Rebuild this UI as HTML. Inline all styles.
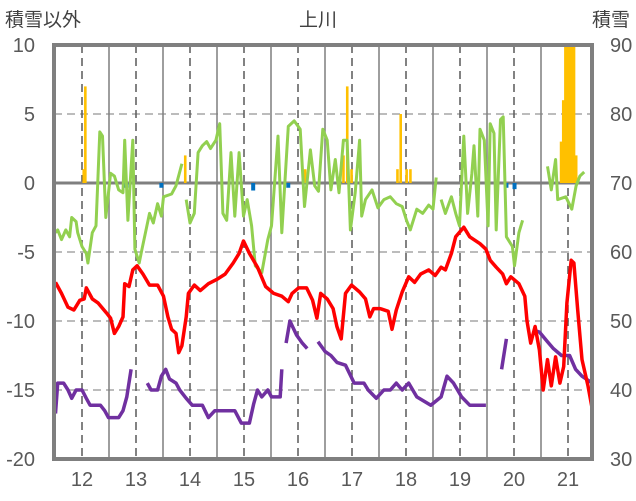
<!DOCTYPE html>
<html><head><meta charset="utf-8"><style>
html,body{margin:0;padding:0;background:#fff;}
svg{display:block;font-family:"Liberation Sans","Noto Sans CJK JP",sans-serif;}
</style></head><body>
<svg id="chart" width="636" height="501" viewBox="0 0 636 501" xmlns="http://www.w3.org/2000/svg">
<text x="5" y="26" font-size="19" fill="#404040">積雪以外</text>
<text x="318" y="26" font-size="19" fill="#404040" text-anchor="middle">上川</text>
<text x="592" y="26" font-size="19" fill="#404040">積雪</text>
<g id="grid"></g>
<g id="marks"></g>
<g id="axes"></g>
</svg>
<script>
const leftTicks=[10,5,0,-5,-10,-15,-20];
const rightTicks=[90,80,70,60,50,40,30];
const yearLabels=[12,13,14,15,16,17,18,19,20,21];
const redT=[11.51,11.62,11.74,11.85,11.96,12.04,12.08,12.19,12.30,12.45,12.53,12.60,12.68,12.76,12.79,12.87,12.94,13.02,13.13,13.25,13.40,13.51,13.59,13.66,13.74,13.79,13.85,13.93,13.97,14.08,14.19,14.34,14.49,14.65,14.80,14.91,14.99,15.10,15.25,15.40,15.55,15.70,15.82,15.89,16.01,16.16,16.27,16.35,16.42,16.54,16.65,16.72,16.80,16.88,16.99,17.14,17.25,17.33,17.40,17.52,17.67,17.74,17.82,17.93,18.05,18.16,18.27,18.42,18.54,18.65,18.73,18.84,18.92,19.07,19.18,19.37,19.48,19.56,19.67,19.79,19.86,19.94,20.09,20.20,20.24,20.31,20.39,20.47,20.54,20.62,20.69,20.77,20.85,20.92,20.98,21.06,21.11,21.18,21.26,21.37,21.45];
const redV=[-7.2,-8,-9,-9.2,-8.5,-8.4,-7.6,-8.4,-8.7,-9.4,-9.8,-10.9,-10.4,-9.7,-7.3,-7.5,-6.3,-6,-6.6,-7.4,-7.4,-8.2,-9.7,-10.6,-10.9,-12.3,-11.8,-9.7,-8,-7.4,-7.8,-7.3,-7,-6.6,-5.8,-5.1,-4.2,-5.1,-6.1,-7.5,-8,-8.2,-8.6,-8,-7.6,-7.6,-8.5,-9.8,-8,-8.4,-9.1,-10.4,-11.3,-8,-7.4,-7.9,-8.4,-9.7,-9.1,-9.1,-9.3,-10.6,-9.2,-7.9,-6.8,-7.2,-6.6,-6.3,-6.7,-6.1,-6.3,-5.1,-3.9,-3.2,-3.9,-4.4,-4.8,-5.6,-6.1,-6.6,-7.3,-6.8,-7.3,-8.2,-10,-11.6,-10.4,-12.1,-15,-12.8,-14.7,-12.6,-14.5,-13.3,-8.7,-5.6,-5.8,-9.2,-12.8,-14.7,-16.4];
const purpleT=[11.51,11.55,11.66,11.74,11.81,11.89,12.00,12.08,12.15,12.34,12.42,12.49,12.68,12.76,12.83,12.91,null,13.21,13.28,13.40,13.47,13.55,13.62,13.74,13.81,13.93,14.04,14.23,14.34,14.46,14.83,14.95,15.10,15.18,15.25,15.33,15.44,15.51,15.67,15.70,null,15.78,15.85,15.97,16.08,16.17,null,16.37,16.50,16.61,16.72,16.88,17.04,17.22,17.30,17.45,17.59,17.71,17.82,17.93,18.05,18.20,18.46,18.65,18.76,18.88,19.03,19.18,19.48,null,19.77,19.86,null,20.39,20.47,20.62,20.73,20.88,21.03,21.14,21.26,21.45];
const purpleV=[36.6,41,41,40,38.8,40,40,38.8,37.8,37.8,37,36,36,37,39,43,null,41,40,40,42,43,41.6,41,40,38.8,37.8,37.8,36,37,37,35.2,35.2,38,40,39,40,39,39,43,null,46.8,50,48,46.8,46,null,47,45.6,45,44,43.6,41,41,40,38.8,40,40,41,40,41,39,37.8,39,42,41,39,37.8,37.8,null,43,47.4,null,48.6,48.4,47,46,45,45,43,42,41];
const greenT=[11.51,11.55,11.62,11.70,11.77,11.81,11.89,11.92,12.00,12.08,12.11,12.19,12.26,12.33,12.38,12.44,12.53,12.60,12.68,12.76,12.79,12.85,12.94,12.98,13.06,13.10,13.25,13.32,13.40,13.47,13.51,13.66,13.74,13.85,null,13.93,14.00,14.08,14.15,14.23,14.31,14.38,14.48,14.55,14.61,14.68,14.76,14.83,14.91,14.99,15.06,15.14,15.21,15.33,15.44,15.51,15.63,15.70,15.82,15.93,16.04,16.12,16.23,16.31,16.38,16.46,16.54,16.61,16.69,16.76,16.84,16.91,16.97,17.06,17.14,17.18,17.25,17.37,17.48,17.59,17.71,17.82,17.93,18.01,18.08,18.20,18.31,18.42,18.50,18.56,null,18.65,18.73,18.84,18.92,18.99,19.07,19.14,19.22,19.26,19.33,19.37,19.45,19.52,19.56,19.63,19.67,19.75,19.80,19.86,19.97,20.01,20.09,20.16,null,20.62,20.69,20.77,20.81,20.96,21.07,21.15,21.22,21.30];
const greenV=[-3.6,-3.4,-4.1,-3.4,-3.9,-2.5,-2.8,-3.6,-4.6,-5.1,-5.8,-3.6,-3.1,3.7,3.4,-2.5,0.7,0.5,-0.5,-0.7,3.1,-2.7,3.1,-4.8,-5.8,-5,-2.2,-2.9,-1.5,-2.4,-1,-0.8,-0.2,1.4,null,-1.2,-2.9,-2.2,2.2,2.7,3,2.5,3.1,4.3,-2.2,-2.7,2.2,-2.4,2.2,-2.4,-1.2,-3.1,-6,-6.5,-4.1,-3.1,3.4,-3.6,4.1,4.5,3.9,-1.7,2.4,-0.2,-0.6,3.9,3.1,-0.5,1.7,-0.7,3.1,3.1,-3.4,-0.7,3.1,-2.4,-1.2,-0.5,-1.8,-1.2,-1,-1.5,-1.7,-2.7,-3.4,-1.9,-2.2,-1.6,-1.9,0.4,null,-1.2,-2.2,-1,-2.2,-3.1,3.4,-2.2,0.7,2.7,-2.4,3.9,3.1,-3.1,4.3,3.6,-3.4,4.6,4.8,-3.9,-4.6,-6,-3.6,-2.7,null,1.2,-0.5,1.7,-1.2,-1,-1.9,-0.2,0.5,0.8];
const orangeT=[12.03,12.06,13.91,16.13,16.84,16.91,16.99,17.84,17.90,18.01,18.08,20.87,20.91,20.95,20.99,21.03,21.07,21.11,21.15];
const orangeV=[1,7,2,1,2,7,1,1,5,1,1,3,6,10,10,10,10,10,2];
const blueT=[12.82,13.47,15.17,15.82,19.86,20.01];
const blueV=[-0.2,-0.2,-0.4,-0.2,-0.2,-0.3];

const L=54,R=592,T=45,B=459;
const X=t=>82+(t-12)*54;
const Y=v=>T+(10-v)*(B-T)/30;
const YR=r=>T+(90-r)*(B-T)/60;
const NS='http://www.w3.org/2000/svg';
function mk(tag,attrs,parent){const e=document.createElementNS(NS,tag);for(const k in attrs)e.setAttribute(k,attrs[k]);parent.appendChild(e);return e;}
const grid=document.getElementById('grid'),marks=document.getElementById('marks'),axes=document.getElementById('axes');
// horizontal gridlines
leftTicks.forEach(v=>{if(v===10||v===-20||v===0)return;const l=mk('line',{x1:L,x2:R,y1:Y(v),y2:Y(v),stroke:'#a6a6a6','stroke-width':1.5,'stroke-dasharray':'8,5'},grid);

});
yearLabels.forEach(y=>{const d=mk('line',{x1:X(y),x2:X(y),y1:T,y2:B,stroke:'#595959','stroke-width':1.5,'stroke-dasharray':'8,5'},grid);


if(y<21){const s=mk('line',{x1:X(y+0.5),x2:X(y+0.5),y1:T,y2:B,stroke:'#7f7f7f','stroke-width':1.5},grid);

}});
// zero line
const z=mk('line',{x1:L,x2:R,y1:Y(0),y2:Y(0),stroke:'#7f7f7f','stroke-width':3},grid);


// bars
orangeT.forEach((t,i)=>{const b=mk('rect',{x:X(t)-1.2,y:YR(70+orangeV[i]*2),width:2.6,height:YR(70)-YR(70+orangeV[i]*2),fill:'#ffc000'},marks);

});
blueT.forEach((t,i)=>{const b=mk('rect',{x:X(t)-2,y:Y(0),width:4,height:Y(blueV[i])-Y(0)+2,fill:'#0070c0'},marks);

});
function path(ts,vs,yf){let d='',pen=false;ts.forEach((t,i)=>{if(t===null||vs[i]===null){pen=false;return;}d+=(pen?'L':'M')+X(t).toFixed(1)+','+yf(vs[i]).toFixed(1);pen=true;});return d;}
const g=mk('path',{d:path(greenT,greenV,Y),fill:'none',stroke:'#92d050','stroke-width':3,'stroke-linejoin':'round'},marks);


const p=mk('path',{d:path(purpleT,purpleV,YR),fill:'none',stroke:'#7030a0','stroke-width':3.5,'stroke-linejoin':'round'},marks);


const r=mk('path',{d:path(redT,redV,Y),fill:'none',stroke:'#ff0000','stroke-width':3.5,'stroke-linejoin':'round'},marks);


// frame
const f=mk('rect',{x:L,y:T,width:R-L,height:B-T,fill:'none',stroke:'#7f7f7f','stroke-width':4},axes);


leftTicks.forEach(v=>{const t=mk('text',{x:35,y:Y(v)+7,'font-size':20,fill:'#595959','text-anchor':'end'},axes);t.textContent=v;

});
rightTicks.forEach(v=>{const t=mk('text',{x:610,y:YR(v)+7,'font-size':20,fill:'#595959'},axes);t.textContent=v;

});
yearLabels.forEach(y=>{const t=mk('text',{x:X(y),y:486,'font-size':20,fill:'#595959','text-anchor':'middle'},axes);t.textContent=y;

});
</script>
</body></html>
